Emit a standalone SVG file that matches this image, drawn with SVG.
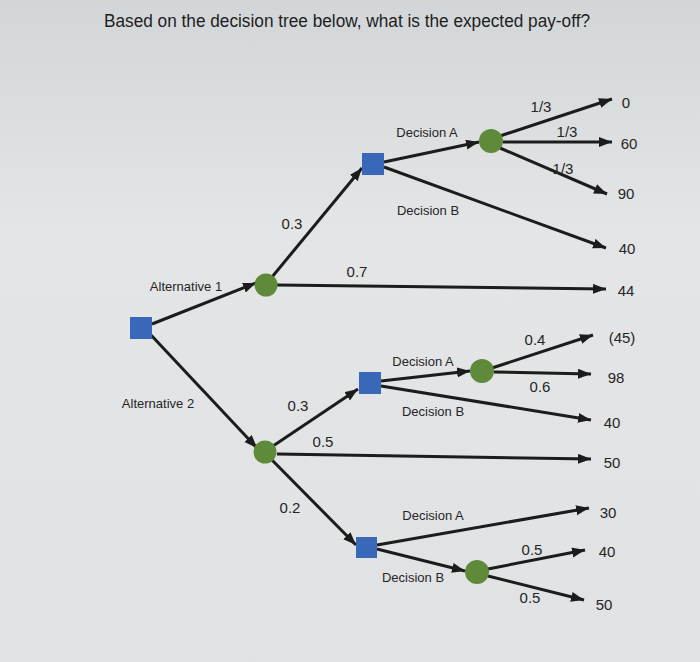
<svg xmlns="http://www.w3.org/2000/svg" width="700" height="662" viewBox="0 0 700 662">
<style>
.bg{fill:url(#bgGrad)}
.ln{stroke:#1c1c1c;stroke-width:3;fill:none}
.arr{marker-end:url(#ah)}
.dec{fill:#3a68b8}
.chn{fill:#5e8a3a}
text{font-family:"Liberation Sans","DejaVu Sans",sans-serif;fill:#262626}
.lab{font-size:13px;text-anchor:middle}
.num{font-size:15px;text-anchor:middle}
.title{font-size:17.5px;fill:#1e1e1e}
</style>
<defs>
<linearGradient id="bgGrad" x1="0" y1="0" x2="0" y2="1">
<stop offset="0" stop-color="#d3d6d8"/>
<stop offset="0.35" stop-color="#e3e5e6"/>
<stop offset="1" stop-color="#e0e2e3"/>
</linearGradient>
<marker id="ah" markerUnits="userSpaceOnUse" markerWidth="14" markerHeight="11" refX="13" refY="5" orient="auto">
<path d="M0,0 L13,5 L0,10 z" fill="#1c1c1c"/>
</marker>
</defs>
<rect class="bg" x="0" y="0" width="700" height="662"/>
<text class="title" x="104" y="27" textLength="486" lengthAdjust="spacingAndGlyphs">Based on the decision tree below, what is the expected pay-off?</text>

<g id="connectors">
<line class="ln arr" x1="152" y1="324" x2="256" y2="283"/>
<line class="ln arr" x1="150" y1="334" x2="257" y2="448"/>
<line class="ln arr" x1="272" y1="277" x2="362" y2="168"/>
<line class="ln arr" x1="277" y1="285" x2="606" y2="289"/>
<line class="ln arr" x1="384" y1="162" x2="479" y2="142"/>
<line class="ln arr" x1="384" y1="167" x2="606" y2="248"/>
<line class="ln arr" x1="500" y1="136" x2="612" y2="99"/>
<line class="ln arr" x1="503" y1="142" x2="612" y2="142"/>
<line class="ln arr" x1="500" y1="148" x2="607" y2="194"/>
<line class="ln arr" x1="273" y1="446" x2="358" y2="389"/>
<line class="ln arr" x1="277" y1="454" x2="591" y2="459"/>
<line class="ln arr" x1="271" y1="459" x2="356" y2="545"/>
<line class="ln arr" x1="381" y1="381" x2="470" y2="371"/>
<line class="ln arr" x1="381" y1="386" x2="591" y2="420"/>
<line class="ln arr" x1="492" y1="368" x2="593" y2="335"/>
<line class="ln arr" x1="494" y1="372" x2="591" y2="374"/>
<line class="ln arr" x1="377" y1="545" x2="589" y2="508"/>
<line class="ln arr" x1="377" y1="549" x2="465" y2="571"/>
<line class="ln arr" x1="488" y1="569" x2="585" y2="550"/>
<line class="ln arr" x1="488" y1="576" x2="584" y2="600"/>
</g>

<g id="root"><rect class="dec" x="130" y="317" width="22" height="22"/></g>
<g id="chance1"><circle class="chn" cx="266" cy="285" r="11.5"/></g>
<g id="decision1"><rect class="dec" x="362" y="153" width="22" height="22"/></g>
<g id="chanceA1"><circle class="chn" cx="491" cy="141" r="12"/></g>
<g id="chance2"><circle class="chn" cx="265" cy="452" r="11.5"/></g>
<g id="decision2"><rect class="dec" x="359" y="372" width="22" height="22"/></g>
<g id="chanceA2"><circle class="chn" cx="482" cy="371" r="12"/></g>
<g id="decision3"><rect class="dec" x="356" y="537" width="21" height="21"/></g>
<g id="chanceB3"><circle class="chn" cx="477" cy="572" r="12"/></g>

<g id="labels">
<text class="lab" x="186" y="291">Alternative 1</text>
<text class="lab" x="158" y="408">Alternative 2</text>
<text class="num" x="292" y="229">0.3</text>
<text class="num" x="357" y="277">0.7</text>
<text class="lab" x="427" y="137">Decision A</text>
<text class="lab" x="428" y="215">Decision B</text>
<text class="num" x="541" y="112">1/3</text>
<text class="num" x="567" y="137">1/3</text>
<text class="num" x="563" y="174">1/3</text>
<text class="num" x="626" y="108">0</text>
<text class="num" x="629" y="149">60</text>
<text class="num" x="626" y="199">90</text>
<text class="num" x="627" y="254">40</text>
<text class="num" x="626" y="296">44</text>
<text class="num" x="535" y="345">0.4</text>
<text class="num" x="622" y="343">(45)</text>
<text class="lab" x="423" y="366">Decision A</text>
<text class="num" x="616" y="383">98</text>
<text class="num" x="540" y="392">0.6</text>
<text class="lab" x="433" y="416">Decision B</text>
<text class="num" x="612" y="428">40</text>
<text class="num" x="298" y="411">0.3</text>
<text class="num" x="323" y="447">0.5</text>
<text class="num" x="612" y="468">50</text>
<text class="num" x="290" y="513">0.2</text>
<text class="lab" x="433" y="520">Decision A</text>
<text class="num" x="608" y="518">30</text>
<text class="num" x="532" y="555">0.5</text>
<text class="num" x="607" y="557">40</text>
<text class="lab" x="413" y="582">Decision B</text>
<text class="num" x="530" y="603">0.5</text>
<text class="num" x="604" y="610">50</text>
</g>
</svg>
